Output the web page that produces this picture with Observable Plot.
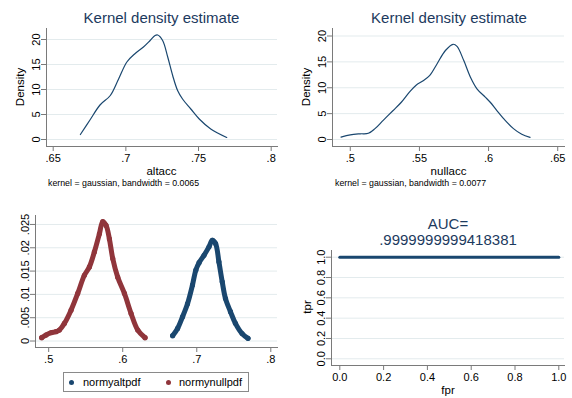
<!DOCTYPE html>
<html>
<head>
<meta charset="utf-8">
<script src="https://cdn.jsdelivr.net/npm/d3@7"></script>
<script src="https://cdn.jsdelivr.net/npm/@observablehq/plot@0.6"></script>
<style>
  html, body { margin: 0; padding: 0; background: #fff; }
  #root { position: relative; width: 572px; height: 398px; overflow: hidden; font-family: "Liberation Sans", Arial, sans-serif; }
  .panel { position: absolute; }
  .lbl { position: absolute; white-space: nowrap; transform: translate(-50%, -50%); color: #000; font-weight: normal; }
  .title { color: #1c3a5e; font-size: 15px; }
  .note { position: absolute; white-space: nowrap; font-size: 8.8px; color: #000; transform: translateY(-50%); }
  .rot { transform: translate(-50%, -50%) rotate(-90deg); }
  #legend { position: absolute; left: 63px; top: 372px; width: 186px; height: 20px; border: 1px solid #8a8a8a; box-sizing: border-box; font-size: 11px; }
  #legend span.d { position: absolute; top: 7px; width: 5px; height: 5px; border-radius: 50%; }
  #legend span.t { position: absolute; top: 3px; }
</style>
</head>
<body>
<div id="root"></div>
<script>
// ---------- data ----------
// Kernel density of altacc
const altX = [0.6687,0.6753,0.6822,0.6893,0.695,0.7007,0.7064,0.7121,0.7167,0.7201,0.7219,0.7253,0.7288,0.7322,0.7356,0.739,0.7447,0.7505,0.7584,0.7694];
const altY = [1.0,3.9,6.9,8.8,12.1,15.5,17.2,18.5,19.8,20.8,20.9,19.8,16.5,12.8,9.8,8.1,6.1,4.1,2.1,0.4];
// Kernel density of nullacc
const nullX = [0.4933,0.5,0.5071,0.5131,0.5179,0.5238,0.531,0.5369,0.5429,0.5476,0.5524,0.5575,0.5627,0.5688,0.5743,0.5772,0.582,0.5868,0.5916,0.5976,0.6012,0.606,0.612,0.618,0.624,0.63];
const nullY = [0.45,0.9,1.1,1.2,2.1,3.7,5.6,7.2,9.2,10.5,11.3,12.4,14.6,17.2,18.4,18.0,15.3,12.1,9.8,8.2,7.2,5.6,3.7,2.1,1.0,0.4];
// normyaltpdf vs altacc
const normAltX = [0.6674,0.6741,0.6808,0.6875,0.6942,0.6987,0.7031,0.7098,0.7165,0.721,0.7254,0.7299,0.7344,0.7388,0.7455,0.7522,0.7612,0.7692];
const normAltY = [0.00114,0.0027,0.0052,0.008,0.012,0.0152,0.0168,0.0184,0.0202,0.0216,0.0209,0.017,0.0127,0.0091,0.0063,0.0038,0.0016,0.00057];
// normynullpdf vs nullacc
const normNullX = [0.4905,0.4964,0.5032,0.5099,0.5144,0.5212,0.5302,0.5392,0.5482,0.555,0.5617,0.5685,0.573,0.5775,0.582,0.5865,0.5932,0.6023,0.6113,0.6203,0.6302];
const normNullY = [0.00071,0.00128,0.00178,0.002,0.00235,0.00377,0.00662,0.0102,0.0141,0.0159,0.0191,0.023,0.0256,0.0248,0.0219,0.0177,0.0137,0.0102,0.0059,0.00235,0.00071];
// ROC
const fpr = [0, 1];
const tpr = [1, 1];
const aucText = ".9999999999418381";
// ticks
const p1XTicks = [0.65, 0.7, 0.75, 0.8];
const p1YTicks = [0, 5, 10, 15, 20];
const p2XTicks = [0.5, 0.55, 0.6, 0.65];
const p2YTicks = [0, 5, 10, 15, 20];
const p3XTicks = [0.5, 0.6, 0.7, 0.8];
const p3YTicks = [0, 0.005, 0.01, 0.015, 0.02, 0.025];
const p4XTicks = [0, 0.2, 0.4, 0.6, 0.8, 1.0];
const p4YTicks = [0, 0.2, 0.4, 0.6, 0.8, 1.0];

// ---------- style ----------
const NAVY = "#1a476f", MAROON = "#90353b", GRID = "#e3ebed", AXIS = "#7a7a7a";
const FONT = '"Liberation Sans", Arial, sans-serif';
const stataFmt = d => d === 0 ? "0" : String(+d.toFixed(4)).replace(/^0\./, ".");
const fixed1 = d => d.toFixed(1);

const root = document.getElementById("root");

function panel({left, top, width, height, mL, mR, mT, mB, xDomain, yDomain, xTicks, yTicks, xFmt, yFmt, marks}) {
  const svg = Plot.plot({
    width, height,
    marginLeft: mL, marginRight: mR, marginTop: mT, marginBottom: mB,
    x: {domain: xDomain, axis: null},
    y: {domain: yDomain, axis: null},
    style: {fontFamily: FONT, fontSize: "11px", color: "#000", background: "transparent"},
    marks: [
      Plot.gridY(yTicks, {stroke: GRID, strokeOpacity: 1, strokeWidth: 1}),
      ...marks,
      Plot.axisX(xTicks, {tickSize: 5, tickPadding: 3, tickFormat: xFmt, stroke: AXIS, fill: "#000", fontSize: 11, label: null}),
      Plot.axisY(yTicks, {tickSize: 5, tickPadding: 2, tickFormat: yFmt, tickRotate: -90, stroke: AXIS, fill: "#000", fontSize: 11, label: null}),
      Plot.frame({anchor: "left", stroke: AXIS}),
      Plot.frame({anchor: "bottom", stroke: AXIS})
    ]
  });
  svg.classList.add("panel");
  svg.style.left = left + "px";
  svg.style.top = top + "px";
  root.appendChild(svg);
}

function label(text, x, y, cls = "", size = 11.5) {
  const d = document.createElement("div");
  d.className = "lbl " + cls;
  d.style.left = x + "px"; d.style.top = y + "px";
  d.style.fontSize = size + "px";
  d.textContent = text;
  root.appendChild(d);
}
function note(text, x, y) {
  const d = document.createElement("div");
  d.className = "note";
  d.style.left = x + "px"; d.style.top = y + "px";
  d.textContent = text;
  root.appendChild(d);
}

// Panel 1: kernel density altacc
const alt = altX.map((x, i) => ({x, y: altY[i]}));
panel({left: 0, top: 0, width: 286, height: 200, mL: 46, mR: 9, mT: 28, mB: 54,
  xDomain: [0.64539, 0.80434], yDomain: [-1.4, 22.2],
  xTicks: p1XTicks, yTicks: p1YTicks, xFmt: stataFmt, yFmt: stataFmt,
  marks: [Plot.line(alt, {x: "x", y: "y", stroke: NAVY, strokeWidth: 1.2, curve: "catmull-rom"})]});
label("Kernel density estimate", 161.5, 17, "title", 15);
label("altacc", 161.5, 171);
label("Density", 20, 87, "rot");
note("kernel = gaussian, bandwidth = 0.0065", 48, 183);

// Panel 2: kernel density nullacc
const nul = nullX.map((x, i) => ({x, y: nullY[i]}));
panel({left: 286, top: 0, width: 286, height: 200, mL: 46, mR: 8, mT: 28, mB: 54,
  xDomain: [0.48715, 0.6549], yDomain: [-1.35, 21.45],
  xTicks: p2XTicks, yTicks: p2YTicks, xFmt: stataFmt, yFmt: stataFmt,
  marks: [Plot.line(nul, {x: "x", y: "y", stroke: NAVY, strokeWidth: 1.2, curve: "catmull-rom"})]});
label("Kernel density estimate", 449, 17, "title", 15);
label("nullacc", 448.5, 171);
label("Density", 306, 87, "rot");
note("kernel = gaussian, bandwidth = 0.0077", 335, 183);

// Panel 3: scatter of normalized pdfs
const nA = normAltX.map((x, i) => ({x, y: normAltY[i]}));
const nN = normNullX.map((x, i) => ({x, y: normNullY[i]}));
panel({left: 0, top: 200, width: 286, height: 198, mL: 35, mR: 9, mT: 15, mB: 51,
  xDomain: [0.48219, 0.80904], yDomain: [-0.001389, 0.026923],
  xTicks: p3XTicks, yTicks: p3YTicks, xFmt: stataFmt, yFmt: stataFmt,
  marks: [
    Plot.line(nA, {x: "x", y: "y", stroke: NAVY, strokeWidth: 5, strokeLinecap: "round", strokeLinejoin: "round", curve: "catmull-rom"}),
    Plot.dot(nA, {x: "x", y: "y", r: 2.6, fill: NAVY}),
    Plot.line(nN, {x: "x", y: "y", stroke: MAROON, strokeWidth: 5, strokeLinecap: "round", strokeLinejoin: "round", curve: "catmull-rom"}),
    Plot.dot(nN, {x: "x", y: "y", r: 2.6, fill: MAROON})
  ]});
const lg = document.createElement("div");
lg.id = "legend";
lg.innerHTML = '<span class="d" style="left:5px;background:' + NAVY + '"></span><span class="t" style="left:19px">normyaltpdf</span>' +
               '<span class="d" style="left:102px;background:' + MAROON + '"></span><span class="t" style="left:115px">normynullpdf</span>';
root.appendChild(lg);

// Panel 4: ROC
const roc = fpr.map((x, i) => ({x, y: tpr[i]}));
panel({left: 286, top: 200, width: 286, height: 198, mL: 45, mR: 8, mT: 50, mB: 33,
  xDomain: [-0.0379, 1.026], yDomain: [-0.066, 1.066],
  xTicks: p4XTicks, yTicks: p4YTicks, xFmt: fixed1, yFmt: fixed1,
  marks: [Plot.line(roc, {x: "x", y: "y", stroke: NAVY, strokeWidth: 3})]});
label("AUC=", 448, 223, "title", 15);
label(aucText, 448, 238.5, "title", 15);
label("tpr", 306.5, 307, "rot");
label("fpr", 448, 390);
</script>
</body>
</html>
